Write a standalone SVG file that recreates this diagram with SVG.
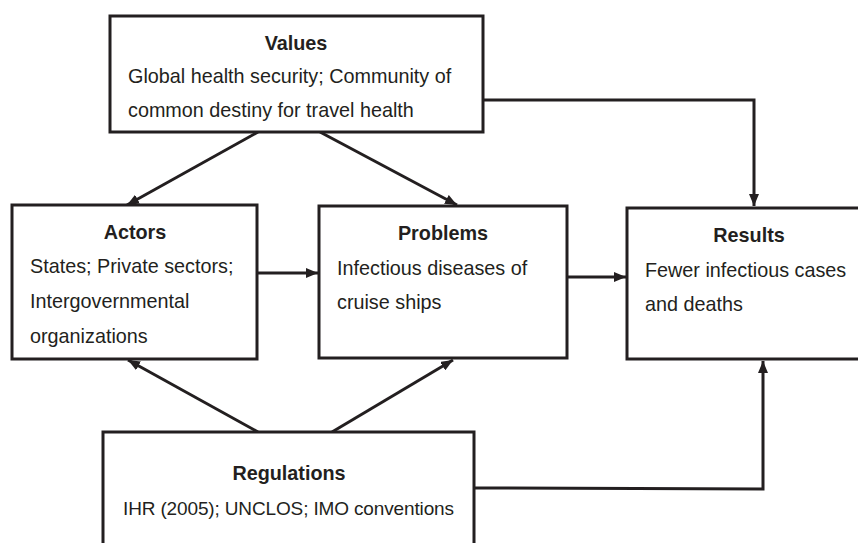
<svg xmlns="http://www.w3.org/2000/svg" width="858" height="543" viewBox="0 0 858 543">
<style>
.box{fill:#fff;stroke:#231f20;stroke-width:3}
.t{font-family:"Liberation Sans",Arial,sans-serif;font-size:19.8px;fill:#231f20}
.h{font-weight:bold;text-anchor:middle}
.c{text-anchor:middle}
.ln{fill:none;stroke:#231f20;stroke-width:3}
</style>
<defs>
<marker id="ah" viewBox="0 0 12 10" refX="12" refY="5" markerWidth="12" markerHeight="10" markerUnits="userSpaceOnUse" orient="auto">
<path d="M0,0 L12,5 L0,10 z" fill="#231f20"/>
</marker>
</defs>
<rect width="858" height="543" fill="#fff"/>
<g id="connectors">
<line class="ln" x1="258" y1="132" x2="127" y2="205" marker-end="url(#ah)"/>
<line class="ln" x1="320" y1="132" x2="457" y2="205" marker-end="url(#ah)"/>
<polyline class="ln" points="483,100 754,100 754,206" marker-end="url(#ah)"/>
<line class="ln" x1="257" y1="273" x2="318" y2="273" marker-end="url(#ah)"/>
<line class="ln" x1="567" y1="277" x2="626" y2="277" marker-end="url(#ah)"/>
<line class="ln" x1="258" y1="432" x2="128" y2="360" marker-end="url(#ah)"/>
<line class="ln" x1="332" y1="432" x2="453" y2="360" marker-end="url(#ah)"/>
<polyline class="ln" points="474,488 763,489 763,361" marker-end="url(#ah)"/>
</g>
<g id="values">
<rect class="box" x="110" y="16" width="373" height="116"/>
<text class="t h" x="296" y="50">Values</text>
<text class="t" x="128" y="83">Global health security; Community of</text>
<text class="t" x="128" y="117">common destiny for travel health</text>
</g>
<g id="actors">
<rect class="box" x="12" y="205" width="245" height="154"/>
<text class="t h" x="135" y="239">Actors</text>
<text class="t" x="30" y="273">States; Private sectors;</text>
<text class="t" x="30" y="308">Intergovernmental</text>
<text class="t" x="30" y="343">organizations</text>
</g>
<g id="problems">
<rect class="box" x="319" y="206" width="248" height="152"/>
<text class="t h" x="443" y="240">Problems</text>
<text class="t" x="337" y="275">Infectious diseases of</text>
<text class="t" x="337" y="309">cruise ships</text>
</g>
<g id="results">
<rect class="box" x="627" y="208" width="244" height="151"/>
<text class="t h" x="749" y="242">Results</text>
<text class="t" x="645" y="277">Fewer infectious cases</text>
<text class="t" x="645" y="311">and deaths</text>
</g>
<g id="regulations">
<rect class="box" x="103" y="432" width="371" height="120"/>
<text class="t h" x="289" y="480">Regulations</text>
<text class="t" x="123" y="515" style="font-size:19px" textLength="331" lengthAdjust="spacing">IHR (2005); UNCLOS; IMO conventions</text>
</g>
</svg>
